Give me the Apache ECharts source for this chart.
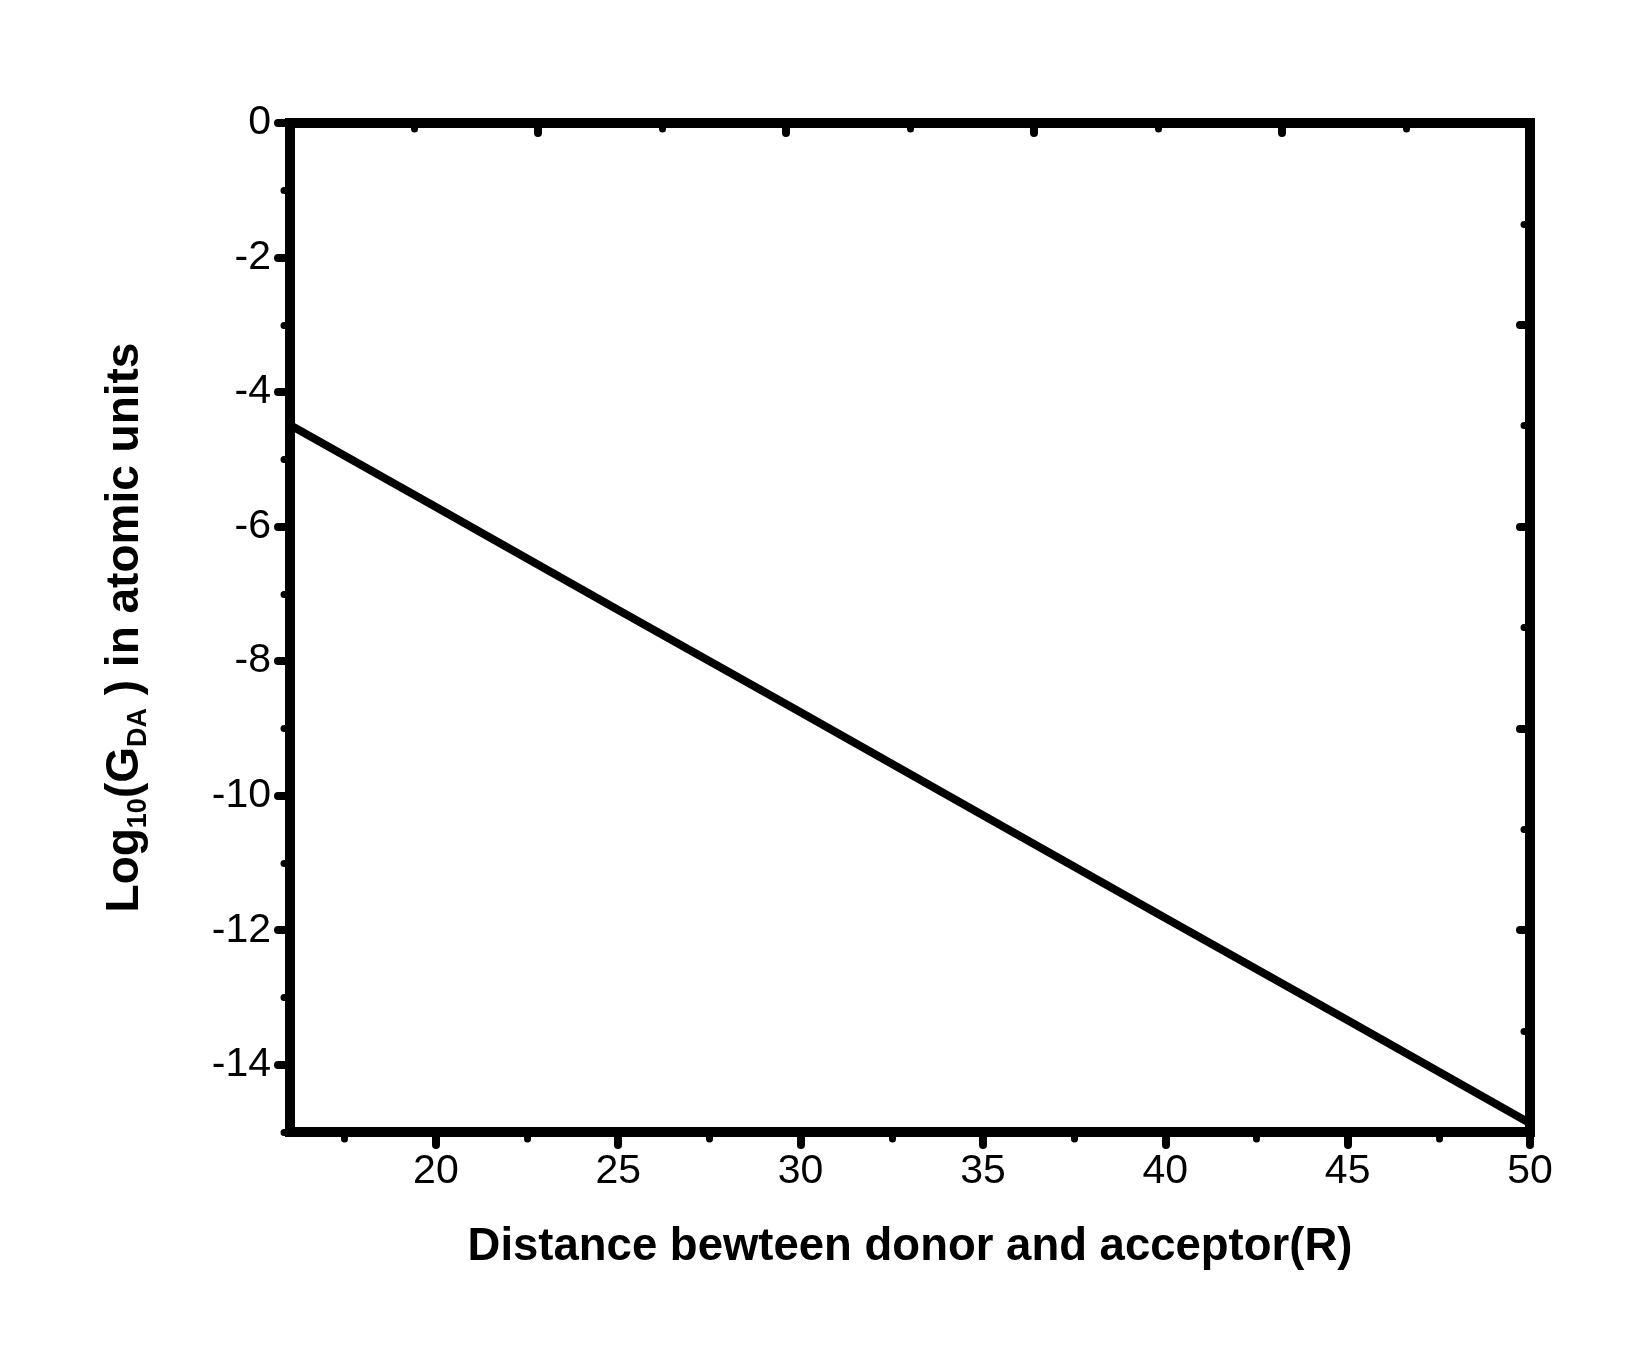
<!DOCTYPE html>
<html>
<head>
<meta charset="utf-8">
<script src="https://cdn.jsdelivr.net/npm/echarts@6/dist/echarts.min.js"></script>
<style>
  html, body { margin: 0; padding: 0; background: #fff; }
</style>
</head>
<body>
<!-- 图表容器 -->
<div id="main" style="width: 1650px; height: 1365px"></div>
<script>
// 数据
var distance = [16, 20, 25, 30, 35, 40, 45, 50];
var logG = [-4.49, -5.71, -7.24, -8.76, -10.29, -11.82, -13.34, -14.87];

// tick labels
var xMajor = [20, 25, 30, 35, 40, 45, 50];
var xMinor = [17.5, 22.5, 27.5, 32.5, 37.5, 42.5, 47.5];
var yMajor = [0, -2, -4, -6, -8, -10, -12, -14];
var yMinor = [-1, -3, -5, -7, -9, -11, -13, -15];

var FONT = "'Liberation Sans', Arial, sans-serif";

var chartDom = document.getElementById("main");
var myChart = echarts.init(chartDom);

// onZero off, otherwise the x axis jumps to y=0 (the top edge)
var axisLine = { show: true, onZero: false, lineStyle: { color: "#000", width: 10, cap: "square" } };
var noLine = { show: false, onZero: false };

var option = {
    animation: false,
    backgroundColor: "#fff",
    grid: { left: 290, right: 120, top: 123, bottom: 233 },
    xAxis: [
        {
            type: "value", position: "bottom", min: 16, max: 50,
            axisLine: axisLine,
            axisTick: { show: true, customValues: xMajor, length: 13, lineStyle: { color: "#000", width: 8, cap: "round" } },
            axisLabel: { customValues: xMajor, fontSize: 41, color: "#000", fontFamily: FONT, margin: 19 },
            splitLine: { show: false },
            name: "Distance bewteen donor and acceptor(R)",
            nameLocation: "middle",
            nameGap: 92,
            nameMoveOverlap: false,
            nameTextStyle: { fontSize: 45.5, fontWeight: "bold", color: "#000", fontFamily: FONT }
        },
        {
            // minor ticks only
            type: "value", position: "bottom", min: 16, max: 50,
            axisLine: noLine,
            axisTick: { show: true, customValues: xMinor, length: 7, lineStyle: { color: "#000", width: 7, cap: "round" } },
            axisLabel: { show: false },
            splitLine: { show: false }
        },
        {
            type: "value", position: "top", min: 0, max: 5, interval: 1,
            axisLine: axisLine,
            axisTick: { show: true, inside: true, length: 10, lineStyle: { color: "#000", width: 8, cap: "round" } },
            minorTick: { show: true, splitNumber: 2, length: 6, lineStyle: { color: "#000", width: 7, cap: "round" } },
            axisLabel: { show: false },
            splitLine: { show: false }
        }
    ],
    yAxis: [
        {
            type: "value", position: "left", min: -15, max: 0,
            axisLine: axisLine,
            axisTick: { show: true, customValues: yMajor, length: 12, lineStyle: { color: "#000", width: 8, cap: "round" } },
            axisLabel: { customValues: yMajor, fontSize: 41, color: "#000", fontFamily: FONT, margin: 19 },
            splitLine: { show: false },
            name: "Log{s|10}(G{s|DA} ) in atomic units",
            nameLocation: "middle",
            nameGap: 138,
            nameMoveOverlap: false,
            nameTextStyle: {
                fontSize: 46, fontWeight: "bold", color: "#000", fontFamily: FONT, lineHeight: 54,
                rich: {
                    s: { fontSize: 27, fontWeight: "bold", color: "#000", fontFamily: FONT, lineHeight: 27, verticalAlign: "bottom" }
                }
            }
        },
        {
            type: "value", position: "left", min: -15, max: 0,
            axisLine: noLine,
            axisTick: { show: true, customValues: yMinor, length: 6, lineStyle: { color: "#000", width: 7, cap: "round" } },
            axisLabel: { show: false },
            splitLine: { show: false }
        },
        {
            type: "value", position: "right", min: 0, max: 5, interval: 1,
            axisLine: axisLine,
            axisTick: { show: true, inside: true, length: 10, lineStyle: { color: "#000", width: 8, cap: "round" } },
            minorTick: { show: true, splitNumber: 2, length: 6, lineStyle: { color: "#000", width: 7, cap: "round" } },
            axisLabel: { show: false },
            splitLine: { show: false }
        }
    ],
    series: [
        {
            type: "line",
            xAxisIndex: 0,
            yAxisIndex: 0,
            data: distance.map(function (d, i) { return [d, logG[i]]; }),
            showSymbol: false,
            lineStyle: { color: "#000", width: 8 }
        }
    ]
};

myChart.setOption(option);
</script>
</body>
</html>
